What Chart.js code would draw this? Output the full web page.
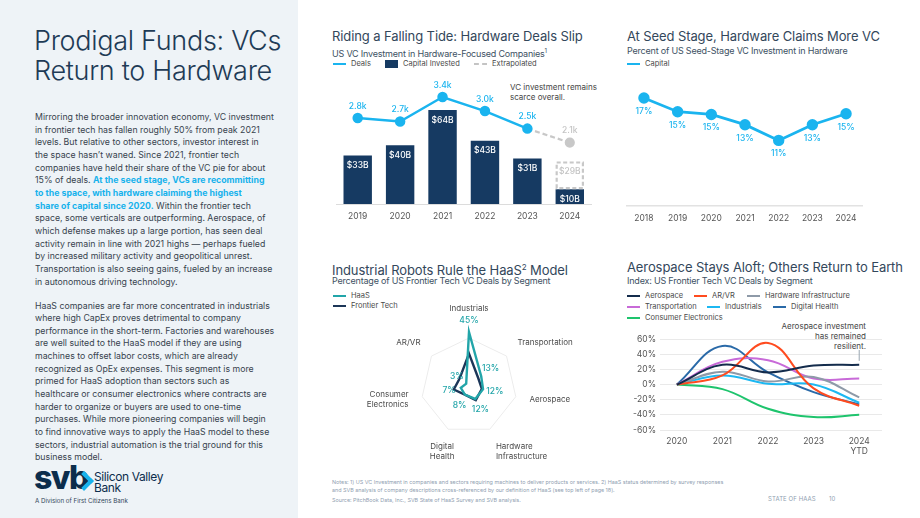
<!DOCTYPE html>
<html>
<head>
<meta charset="utf-8">
<script src="https://cdn.jsdelivr.net/npm/chart.js@4.4.0/dist/chart.umd.min.js"></script>
<style>
    body { margin: 0; width: 920px; height: 518px; position: relative; overflow: hidden; background: #fff; font-family: Inter, "Noto Sans", sans-serif; }
    .panel { position: absolute; left: 0; top: 0; width: 298px; height: 518px; background: #eef3f7; }
    .bigtitle { position: absolute; left: 34px; top: 26px; font-size: 27px; font-weight: 300; line-height: 30px; color: #1e3b56; letter-spacing: -0.3px; }
    .body { position: absolute; left: 35px; font-size: 8.75px; line-height: 12.65px; color: #38434e; white-space: nowrap; }
    .hl { color: #17b2ec; font-weight: 700; }
    .ttl { position: absolute; font-size: 13px; line-height: 15px; color: #33475b; white-space: nowrap; letter-spacing: -0.1px; }
    .sub { position: absolute; font-size: 9px; line-height: 12px; color: #3d5163; white-space: nowrap; letter-spacing: -0.2px; }
    .sub sup { font-size: 6px; }
    .lg { position: absolute; font-size: 7.5px; line-height: 10px; color: #4a4a4a; white-space: nowrap; display: flex; align-items: center; }
    .lg i { display: inline-block; width: 13px; height: 2.5px; margin-right: 5px; }
    .note { position: absolute; font-size: 8px; line-height: 10px; color: #454545; white-space: nowrap; }
    canvas { position: absolute; }
    .foot { position: absolute; left: 332px; font-size: 5.4px; line-height: 8px; color: #8fa0b1; white-space: nowrap; }
</style>
</head>
<body>
<div class="panel"></div>
<div class="bigtitle">Prodigal Funds: VCs<br>Return to Hardware</div>

<div class="body" style="top:111px">
    <div>Mirroring the broader innovation economy, VC investment</div>
    <div>in frontier tech has fallen roughly 50% from peak 2021</div>
    <div>levels. But relative to other sectors, investor interest in</div>
    <div>the space hasn’t waned. Since 2021, frontier tech</div>
    <div>companies have held their share of the VC pie for about</div>
    <div>15% of deals. <span class="hl">At the seed stage, VCs are recommitting</span></div>
    <div><span class="hl">to the space, with hardware claiming the highest</span></div>
    <div><span class="hl">share of capital since 2020.</span> Within the frontier tech</div>
    <div>space, some verticals are outperforming. Aerospace, of</div>
    <div>which defense makes up a large portion, has seen deal</div>
    <div>activity remain in line with 2021 highs — perhaps fueled</div>
    <div>by increased military activity and geopolitical unrest.</div>
    <div>Transportation is also seeing gains, fueled by an increase</div>
    <div>in autonomous driving technology.</div>
</div>
<div class="body" style="top:299.5px">
    <div>HaaS companies are far more concentrated in industrials</div>
    <div>where high CapEx proves detrimental to company</div>
    <div>performance in the short-term. Factories and warehouses</div>
    <div>are well suited to the HaaS model if they are using</div>
    <div>machines to offset labor costs, which are already</div>
    <div>recognized as OpEx expenses. This segment is more</div>
    <div>primed for HaaS adoption than sectors such as</div>
    <div>healthcare or consumer electronics where contracts are</div>
    <div>harder to organize or buyers are used to one-time</div>
    <div>purchases. While more pioneering companies will begin</div>
    <div>to find innovative ways to apply the HaaS model to these</div>
    <div>sectors, industrial automation is the trial ground for this</div>
    <div>business model.</div>
</div>

<!-- logo -->
<div style="position:absolute;left:34px;top:460px;font-size:32px;font-weight:800;color:#0c2d4c;letter-spacing:-1.5px;line-height:36px">svb</div>
<div style="position:absolute;left:77px;top:474px;width:10px;height:10px;border-top:4px solid #19b3ec;border-right:4px solid #19b3ec;transform:rotate(45deg)"></div>
<div style="position:absolute;left:94px;top:472px;font-size:12px;line-height:10.5px;color:#0c2d4c;letter-spacing:-0.4px">Silicon Valley<br>Bank</div>
<div style="position:absolute;left:35px;top:497px;font-size:6.2px;color:#33475b;white-space:nowrap">A Division of First Citizens Bank</div>

<!-- top left -->
<div class="ttl" style="left:332px;top:29px">Riding a Falling Tide: Hardware Deals Slip</div>
<div class="sub" style="left:332px;top:45px">US VC Investment in Hardware-Focused Companies<sup>1</sup></div>
<div class="lg" style="left:333px;top:59px"><i style="background:#1ab4ef"></i>Deals</div>
<div class="lg" style="left:385px;top:59px"><i style="background:#163a62;height:8px;width:13px"></i>Capital Invested</div>
<div class="lg" style="left:474px;top:59px"><i style="background:none;border-top:2.5px dashed #c4c4c4;height:0"></i>Extrapolated</div>
<div class="note" style="left:510px;top:82px">VC investment remains<br>scarce overall.</div>
<canvas id="dealsChart" width="270" height="141" style="left:330px;top:80px"></canvas>

<!-- top right -->
<div class="ttl" style="left:627px;top:29px">At Seed Stage, Hardware Claims More VC</div>
<div class="sub" style="left:627px;top:45px">Percent of US Seed-Stage VC Investment in Hardware</div>
<div class="lg" style="left:627px;top:59px"><i style="background:#1ab4ef"></i>Capital</div>
<canvas id="seedChart" width="250" height="143" style="left:620px;top:80px"></canvas>

<!-- bottom left -->
<div class="ttl" style="left:332px;top:260px">Industrial Robots Rule the HaaS<sup style="font-size:8px">2</sup> Model</div>
<div class="sub" style="left:332px;top:275px">Percentage of US Frontier Tech VC Deals by Segment</div>
<div class="lg" style="left:333px;top:291px"><i style="background:#22a5a9"></i>HaaS</div>
<div class="lg" style="left:333px;top:301px"><i style="background:#1c3658"></i>Frontier Tech</div>
<canvas id="haasChart" width="260" height="180" style="left:339px;top:296px"></canvas>

<!-- bottom right -->
<div class="ttl" style="left:627px;top:260px">Aerospace Stays Aloft; Others Return to Earth</div>
<div class="sub" style="left:627px;top:275px">Index: US Frontier Tech VC Deals by Segment</div>
<div class="lg" style="left:627px;top:291px"><i style="background:#142c4c"></i>Aerospace</div>
<div class="lg" style="left:694px;top:291px"><i style="background:#ff4b1f"></i>AR/VR</div>
<div class="lg" style="left:747px;top:291px"><i style="background:#8e9aa8"></i>Hardware Infrastructure</div>
<div class="lg" style="left:627px;top:302px"><i style="background:#c86ad8"></i>Transportation</div>
<div class="lg" style="left:707px;top:302px"><i style="background:#1cb8f2"></i>Industrials</div>
<div class="lg" style="left:773px;top:302px"><i style="background:#2a6aa8"></i>Digital Health</div>
<div class="lg" style="left:627px;top:313px"><i style="background:#1ec46d"></i>Consumer Electronics</div>
<div class="note" style="left:766px;top:321px;width:100px;text-align:right">Aerospace investment<br>has remained<br>resilient.</div>
<canvas id="segmentChart" width="257" height="126" style="left:625px;top:330px"></canvas>

<!-- footer -->
<div class="foot" style="top:478px">Notes: 1) US VC Investment in companies and sectors requiring machines to deliver products or services. 2) HaaS status determined by survey responses<br>and SVB analysis of company descriptions cross-referenced by our definition of HaaS (see top left of page 18).</div>
<div class="foot" style="top:495.5px">Source: PitchBook Data, Inc., SVB State of HaaS Survey and SVB analysis.</div>
<div style="position:absolute;left:768px;top:495px;font-size:6px;color:#8fa0b1;letter-spacing:0.1px;white-space:nowrap">STATE OF HAAS</div>
<div style="position:absolute;left:829px;top:495px;font-size:6px;color:#8fa0b1">10</div>

<script>
// Hardware deals / capital
const dealYears = ['2019', '2020', '2021', '2022', '2023', '2024'];
const capitalInvested = [33, 40, 64, 43, 31, 10];
const capitalExtrapolated = [null, null, null, null, null, 29];
const dealCounts = [2.8, 2.7, 3.4, 3.0, 2.5, null];
const dealsExtrapolated = [null, null, null, null, 2.5, 2.1];

// Seed stage share
const seedYears = ['2018', '2019', '2020', '2021', '2022', '2023', '2024'];
const seedShare = [17.2, 15.2, 14.8, 13.3, 11.0, 13.3, 14.9];

// HaaS radar
const segments = ['Industrials', 'Transportation', 'Aerospace', ['Hardware', 'Infrastructure'], ['Digital', 'Health'], ['Consumer', 'Electronics'], 'AR/VR'];
const haasShare = [45, 13, 12, 12, 8, 7, 3];
const frontierShare = [27, 10, 11, 13, 8, 13, 10];

// Segment index
const indexYears = [2020, 2021, 2022, 2023, 2024];
const aerospaceIdx = [0, 26, 16, 25, 26];
const arvrIdx = [0, 12, 55, -5, -28];
const hardwareIdx = [0, 17, 4, 10, -17];
const transportIdx = [0, 30, 32, 8, 8];
const industrialsIdx = [0, 12, 1, 0, -24];
const healthIdx = [0, 51, 16, -10, -26];
const consumerIdx = [0, -6, -32, -43, -40];

const FONT = 'Inter, "Noto Sans", sans-serif';
const CYAN = '#1ab4ef';
const NAVY = '#163a62';

Chart.defaults.font.family = FONT;
Chart.defaults.animation = false;
Chart.defaults.plugins.legend.display = false;
Chart.defaults.plugins.tooltip.enabled = false;

window.addEventListener('DOMContentLoaded', () => {
    renderDealsChart();
    renderSeedChart();
    renderHaasChart();
    renderSegmentChart();
});

function renderDealsChart() {
    const labelPlugin = {
        id: 'dealLabels',
        afterDatasetsDraw(chart) {
            const ctx = chart.ctx;
            ctx.save();
            ctx.textAlign = 'center';
            ctx.textBaseline = 'middle';
            ctx.font = `500 8.5px ${FONT}`;

            // extrapolated capital: dashed box
            chart.getDatasetMeta(1).data.forEach((el, i) => {
                if (capitalExtrapolated[i] == null) return;
                const p = el.getProps(['x', 'y', 'base', 'width'], true);
                ctx.setLineDash([4, 2.5]);
                ctx.lineWidth = 2.2;
                ctx.strokeStyle = '#c8c8c8';
                ctx.strokeRect(p.x - p.width / 2 + 1.1, p.y + 1.1, p.width - 2.2, p.base - p.y - 2.2);
                ctx.setLineDash([]);
                ctx.fillStyle = '#c4c4c4';
                ctx.fillText(`$${capitalExtrapolated[i]}B`, p.x, p.y + 10);
            });

            chart.getDatasetMeta(0).data.forEach((el, i) => {
                ctx.fillStyle = '#ffffff';
                ctx.fillText(`$${capitalInvested[i]}B`, el.x, el.y + 10);
            });

            chart.getDatasetMeta(2).data.forEach((el, i) => {
                if (dealCounts[i] == null) return;
                ctx.fillStyle = CYAN;
                ctx.fillText(`${dealCounts[i].toFixed(1)}k`, el.x, el.y - 12);
            });

            chart.getDatasetMeta(3).data.forEach((el, i) => {
                if (dealsExtrapolated[i] == null || dealCounts[i] != null) return;
                ctx.fillStyle = '#c4c4c4';
                ctx.fillText(`${dealsExtrapolated[i].toFixed(1)}k`, el.x, el.y - 12);
            });
            ctx.restore();
        }
    };

    new Chart(document.getElementById('dealsChart'), {
        type: 'bar',
        data: {
            labels: dealYears,
            datasets: [{
                label: 'Capital Invested',
                data: capitalInvested,
                backgroundColor: NAVY,
                stack: 'cap',
                order: 2
            }, {
                label: 'Extrapolated',
                data: capitalExtrapolated.map((v, i) => v == null ? null : v - capitalInvested[i]),
                backgroundColor: 'rgba(255,255,255,0)',
                stack: 'cap',
                order: 2
            }, {
                type: 'line',
                label: 'Deals',
                data: dealCounts,
                yAxisID: 'y1',
                borderColor: CYAN,
                backgroundColor: CYAN,
                borderWidth: 2.5,
                pointRadius: 4,
                tension: 0,
                order: 0
            }, {
                type: 'line',
                label: 'Deals extrapolated',
                data: dealsExtrapolated,
                yAxisID: 'y1',
                borderColor: '#c8c8c8',
                backgroundColor: '#c8c8c8',
                borderDash: [5, 3],
                borderWidth: 2.2,
                pointRadius: dealsExtrapolated.map((v, i) => dealCounts[i] == null ? 4 : 0),
                order: 1
            }]
        },
        options: {
            responsive: false,
            layout: { padding: { left: 5, right: 9, top: 5, bottom: 0 } },
            datasets: { bar: { categoryPercentage: 1, barPercentage: 0.67 } },
            scales: {
                x: {
                    stacked: true,
                    afterFit: (s) => { s.height = 17; },
                    grid: { display: false, drawTicks: false },
                    border: { display: true, color: '#dcdcdc', width: 1 },
                    ticks: { padding: 7, color: '#555', font: { size: 8.5 } }
                },
                y: { stacked: true, display: false, min: 0, max: 80 },
                y1: { display: false, min: 0.35, max: 3.7 }
            }
        },
        plugins: [labelPlugin]
    });
}

function renderSeedChart() {
    const labelPlugin = {
        id: 'seedLabels',
        afterDatasetsDraw(chart) {
            const ctx = chart.ctx;
            ctx.save();
            ctx.textAlign = 'center';
            ctx.textBaseline = 'middle';
            ctx.font = `500 8.5px ${FONT}`;
            ctx.fillStyle = CYAN;
            chart.getDatasetMeta(0).data.forEach((el, i) => {
                ctx.fillText(`${Math.round(seedShare[i])}%`, el.x, el.y + 13.5);
            });
            ctx.restore();
        }
    };

    new Chart(document.getElementById('seedChart'), {
        type: 'line',
        data: {
            labels: seedYears,
            datasets: [{
                label: 'Capital',
                data: seedShare,
                borderColor: CYAN,
                backgroundColor: CYAN,
                borderWidth: 2.8,
                pointRadius: 4.3,
                tension: 0
            }]
        },
        options: {
            responsive: false,
            layout: { padding: { left: 7, right: 6, top: 5, bottom: 0 } },
            scales: {
                x: {
                    offset: true,
                    afterFit: (s) => { s.height = 17; },
                    grid: { display: false, drawTicks: false },
                    border: { display: true, color: '#e2e2e2', width: 1.5 },
                    ticks: { padding: 7, color: '#555', font: { size: 8.5 } }
                },
                y: { display: false, min: 1.4, max: 18.8 }
            }
        },
        plugins: [labelPlugin]
    });
}

function renderHaasChart() {
    const labelPlugin = {
        id: 'haasLabels',
        afterDatasetsDraw(chart) {
            const ctx = chart.ctx;
            const r = chart.scales.r;
            const unit = r.drawingArea / (r.max - r.min);
            ctx.save();

            // values for HaaS
            ctx.font = `500 8.5px ${FONT}`;
            ctx.fillStyle = '#22a5a9';
            ctx.textAlign = 'center';
            ctx.textBaseline = 'middle';
            haasShare.forEach((v, i) => {
                const p = r.getPointPosition(i, v * unit + 12);
                ctx.fillText(`${v}%`, p.x, p.y);
            });

            // segment names
            ctx.font = `8px ${FONT}`;
            ctx.fillStyle = '#4a4a4a';
            segments.forEach((label, i) => {
                const lines = Array.isArray(label) ? label : [label];
                const top = Math.max(haasShare[i], frontierShare[i]) * unit + 19;
                const dist = Math.max(62, top);
                const angle = r.getIndexAngle(i);
                const s = Math.sin(angle), c = Math.cos(angle);
                const p = r.getPointPosition(i, dist);
                const lh = 9.5;
                const h = lines.length * lh;
                ctx.textAlign = s > 0.3 ? 'left' : (s < -0.5 ? 'right' : 'center');
                let y0;
                if (c > 0.3) y0 = p.y - h;
                else if (c < -0.3) y0 = p.y;
                else y0 = p.y - h / 2;
                ctx.textBaseline = 'middle';
                lines.forEach((t, k) => ctx.fillText(t, p.x, y0 + lh * k + lh / 2));
            });
            ctx.restore();
        }
    };

    new Chart(document.getElementById('haasChart'), {
        type: 'radar',
        data: {
            labels: segments,
            datasets: [{
                label: 'HaaS',
                data: haasShare,
                borderColor: '#22a5a9',
                borderWidth: 2.4,
                fill: false,
                pointRadius: 0,
                order: 0
            }, {
                label: 'Frontier Tech',
                data: frontierShare,
                borderColor: '#1c3658',
                borderWidth: 2.4,
                fill: false,
                pointRadius: 0,
                order: 1
            }]
        },
        options: {
            responsive: false,
            layout: { padding: 0 },
            scales: {
                r: {
                    min: 0,
                    max: 75,
                    ticks: { display: false, stepSize: 40 },
                    pointLabels: { display: false },
                    angleLines: { display: false },
                    grid: {
                        color: (c) => c.tick && c.tick.value === 40 ? '#ececec' : 'rgba(0,0,0,0)',
                        lineWidth: 1
                    }
                }
            }
        },
        plugins: [labelPlugin]
    });
}

function renderSegmentChart() {
    const series = [
        { label: 'Aerospace', data: aerospaceIdx, color: '#142c4c' },
        { label: 'AR/VR', data: arvrIdx, color: '#ff4b1f' },
        { label: 'Hardware Infrastructure', data: hardwareIdx, color: '#8e9aa8' },
        { label: 'Transportation', data: transportIdx, color: '#c86ad8' },
        { label: 'Industrials', data: industrialsIdx, color: '#1cb8f2' },
        { label: 'Digital Health', data: healthIdx, color: '#2a6aa8' },
        { label: 'Consumer Electronics', data: consumerIdx, color: '#1ec46d' }
    ];

    const pointerPlugin = {
        id: 'pointer',
        afterDatasetsDraw(chart) {
            const ctx = chart.ctx;
            const x = chart.scales.x.getPixelForValue(2024);
            const y = chart.scales.y.getPixelForValue(aerospaceIdx[4]);
            ctx.save();
            ctx.strokeStyle = '#9aa6b2';
            ctx.lineWidth = 1;
            ctx.beginPath();
            ctx.moveTo(x, 350 - 330);
            ctx.lineTo(x, y - 4);
            ctx.stroke();
            ctx.restore();
        }
    };

    new Chart(document.getElementById('segmentChart'), {
        type: 'line',
        data: {
            datasets: series.map(s => ({
                label: s.label,
                data: indexYears.map((yr, i) => ({ x: yr, y: s.data[i] })),
                borderColor: s.color,
                backgroundColor: s.color,
                borderWidth: 2,
                pointRadius: 0,
                tension: 0.4
            }))
        },
        options: {
            responsive: false,
            layout: { padding: { top: 8, right: 0, left: 0, bottom: 0 } },
            scales: {
                x: {
                    type: 'linear',
                    min: 2019.63,
                    max: 2024.5,
                    afterBuildTicks: (s) => { s.ticks = indexYears.map(v => ({ value: v })); },
                    afterFit: (s) => { s.height = 26; },
                    grid: { display: false, drawTicks: false },
                    border: { display: false },
                    ticks: {
                        padding: 6,
                        color: '#555',
                        font: { size: 8.5 },
                        callback: (v) => v === 2024 ? ['2024', 'YTD'] : String(v)
                    }
                },
                y: {
                    min: -60,
                    max: 60,
                    afterFit: (s) => { s.width = 35; },
                    grid: { color: '#e9e9e9', drawTicks: false },
                    border: { display: false },
                    ticks: {
                        stepSize: 20,
                        padding: 4,
                        color: '#555',
                        font: { size: 8.5 },
                        callback: (v) => v + '%'
                    }
                }
            }
        },
        plugins: [pointerPlugin]
    });
}
</script>
</body>
</html>
